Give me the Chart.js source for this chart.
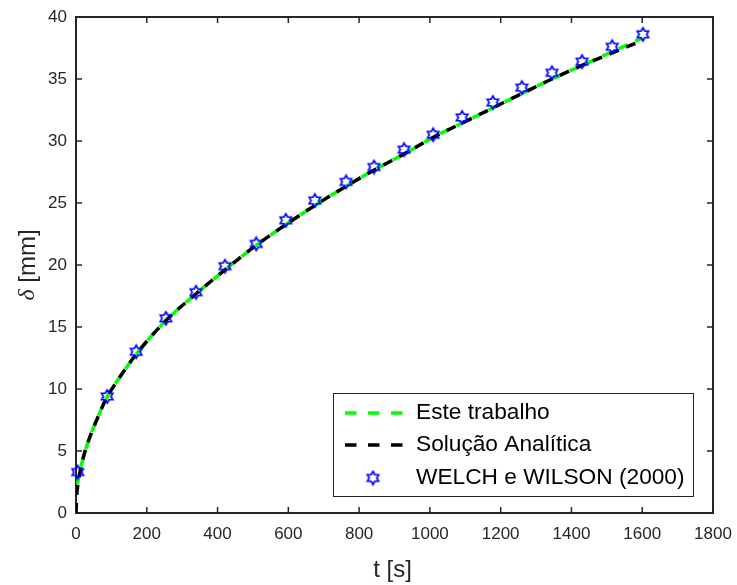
<!DOCTYPE html>
<html>
<head>
<meta charset="utf-8">
<script src="https://cdn.jsdelivr.net/npm/chart.js@4.4.1/dist/chart.umd.min.js"></script>
<style>
  html, body { margin: 0; padding: 0; background: #fff; }
  #wrap { width: 737px; height: 585px; }
</style>
</head>
<body>
<div id="wrap"><canvas id="c" width="737" height="585"></canvas></div>
<script>
// t [s] grid for the two curves
const tCurve = [0, 2, 5, 10, 20, 40, 60, 85, 120, 170, 250, 340, 425, 505, 590, 675, 760, 845, 930, 1010, 1095, 1180, 1265, 1345, 1430, 1515, 1600];
// numerical result (Este trabalho)
const deltaNum = [1.6, 1.9, 2.5, 3.2, 4.4, 6.2, 7.6, 9.2, 10.8, 12.8, 15.4, 17.7, 19.7, 21.5, 23.2, 24.8, 26.3, 27.7, 29.0, 30.3, 31.5, 32.7, 33.9, 35.0, 36.1, 37.2, 38.3];
// analytical solution
const deltaAnal = [0, 1.4, 2.2, 3.1, 4.4, 6.2, 7.6, 9.2, 10.8, 12.8, 15.4, 17.7, 19.7, 21.5, 23.2, 24.8, 26.3, 27.7, 29.0, 30.3, 31.5, 32.7, 33.9, 35.0, 36.1, 37.1, 38.1];
// WELCH e WILSON (2000)
const tExp = [5, 88, 170, 254, 339, 421, 509, 593, 675, 763, 842, 927, 1009, 1091, 1178, 1260, 1345, 1430, 1515, 1602];
const deltaExp = [3.3, 9.4, 13.0, 15.7, 17.8, 19.9, 21.7, 23.6, 25.2, 26.7, 27.9, 29.3, 30.5, 31.9, 33.1, 34.3, 35.5, 36.4, 37.6, 38.6];

const xTicks = [0, 200, 400, 600, 800, 1000, 1200, 1400, 1600, 1800];
const yTicks = [0, 5, 10, 15, 20, 25, 30, 35, 40];

const legendLabels = ['Este trabalho', 'Solução Analítica', 'WELCH e WILSON (2000)'];

const AX = '#262626';
const GREEN = '#00ff00';
const BLUE = '#0000ff';
const FONT = '"Liberation Sans", Arial, sans-serif';

// six-point star used as the marker
function hexagram(size, color) {
  const c = document.createElement('canvas');
  c.width = size + 4; c.height = size + 4;
  const g = c.getContext('2d');
  const cx = c.width / 2, cy = c.height / 2, r = size / 2, ri = r / Math.sqrt(3);
  g.beginPath();
  for (let i = 0; i < 12; i++) {
    const a = -Math.PI / 2 + i * Math.PI / 6;
    const rr = i % 2 === 0 ? r : ri;
    const px = cx + rr * Math.cos(a), py = cy + rr * Math.sin(a);
    if (i === 0) g.moveTo(px, py); else g.lineTo(px, py);
  }
  g.closePath();
  g.strokeStyle = color;
  g.lineWidth = 1.7;
  g.stroke();
  return c;
}
const starImg = hexagram(13, BLUE);

const toXY = (xs, ys) => xs.map((x, i) => ({ x: x, y: ys[i] }));

// axes box with inward ticks on all sides, plus axis titles and legend
const frame = {
  id: 'frame',
  beforeDatasetsDraw(chart) {
    const { ctx, chartArea: a, scales } = chart;
    ctx.save();
    ctx.strokeStyle = AX;
    ctx.lineWidth = 2;
    ctx.strokeRect(a.left, a.top, a.right - a.left, a.bottom - a.top);
    ctx.lineWidth = 1.5;
    ctx.beginPath();
    xTicks.forEach(v => {
      const px = scales.x.getPixelForValue(v);
      ctx.moveTo(px, a.bottom); ctx.lineTo(px, a.bottom - 6);
      ctx.moveTo(px, a.top); ctx.lineTo(px, a.top + 6);
    });
    yTicks.forEach(v => {
      const py = scales.y.getPixelForValue(v);
      ctx.moveTo(a.left, py); ctx.lineTo(a.left + 6, py);
      ctx.moveTo(a.right, py); ctx.lineTo(a.right - 6, py);
    });
    ctx.stroke();
    ctx.restore();
  },
  afterDraw(chart) {
    const { ctx, chartArea: a } = chart;
    ctx.save();
    ctx.fillStyle = AX;
    // x title
    ctx.font = '24px ' + FONT;
    ctx.textAlign = 'center';
    ctx.textBaseline = 'middle';
    ctx.fillText('t [s]', (a.left + a.right) / 2 - 2, 570);
    // y title: italic delta followed by unit
    ctx.translate(28, (a.top + a.bottom) / 2);
    ctx.rotate(-Math.PI / 2);
    ctx.font = 'italic 24px "Liberation Serif", serif';
    const w1 = ctx.measureText('δ').width;
    ctx.font = '24px ' + FONT;
    const w2 = ctx.measureText(' [mm]').width;
    const x0 = -(w1 + w2) / 2;
    ctx.textAlign = 'left';
    ctx.font = 'italic 24px "Liberation Serif", serif';
    ctx.fillText('δ', x0, 0);
    ctx.font = '24px ' + FONT;
    ctx.fillText(' [mm]', x0 + w1, 0);
    ctx.restore();

    // legend box
    const bx = 333, by = 393, bw = 360, bh = 103;
    ctx.save();
    ctx.fillStyle = '#fff';
    ctx.fillRect(bx, by, bw, bh);
    ctx.strokeStyle = AX;
    ctx.lineWidth = 1;
    ctx.strokeRect(bx + 0.5, by + 0.5, bw, bh);
    const rows = [413, 445, 478];
    ctx.lineWidth = 3.5;
    ctx.setLineDash([11.5, 11.5]);
    [GREEN, '#000'].forEach((col, i) => {
      ctx.strokeStyle = col;
      ctx.beginPath();
      ctx.moveTo(345, rows[i]); ctx.lineTo(403, rows[i]);
      ctx.stroke();
    });
    ctx.setLineDash([]);
    ctx.drawImage(starImg, 373 - starImg.width / 2, rows[2] - starImg.height / 2);
    ctx.fillStyle = '#000';
    ctx.font = '22.7px ' + FONT;
    ctx.textAlign = 'left';
    ctx.textBaseline = 'middle';
    legendLabels.forEach((t, i) => ctx.fillText(t, 416, rows[i]));
    ctx.restore();
  }
};

new Chart(document.getElementById('c'), {
  type: 'line',
  data: {
    datasets: [
      {
        type: 'scatter',
        label: legendLabels[2],
        data: toXY(tExp, deltaExp),
        pointStyle: starImg,
        pointRadius: 7,
        showLine: false,
        clip: false,
        order: 0
      },
      {
        label: legendLabels[1],
        data: toXY(tCurve, deltaAnal),
        borderColor: '#000',
        borderWidth: 3.5,
        borderDash: [10, 8],
        borderDashOffset: 0,
        pointRadius: 0,
        cubicInterpolationMode: 'monotone',
        fill: false,
        order: 1
      },
      {
        label: legendLabels[0],
        data: toXY(tCurve, deltaNum),
        borderColor: GREEN,
        borderWidth: 3.5,
        borderDash: [10, 8],
        borderDashOffset: 9,
        pointRadius: 0,
        cubicInterpolationMode: 'monotone',
        fill: false,
        order: 2
      }
    ]
  },
  options: {
    responsive: false,
    animation: false,
    layout: { padding: { left: 0, top: 17, right: 24, bottom: 0 } },
    plugins: { legend: { display: false }, tooltip: { enabled: false } },
    scales: {
      x: {
        type: 'linear',
        min: 0, max: 1800,
        afterFit(s) { s.height = 72; s.paddingLeft = 0; s.paddingRight = 0; },
        afterBuildTicks(s) { s.ticks = xTicks.map(v => ({ value: v })); },
        grid: { display: false, drawTicks: false },
        border: { display: false },
        ticks: { color: AX, padding: 11, maxRotation: 0, callback: v => String(v), font: { family: FONT, size: 17 } }
      },
      y: {
        type: 'linear',
        min: 0, max: 40,
        afterFit(s) { s.width = 76; s.paddingTop = 0; s.paddingBottom = 0; },
        afterBuildTicks(s) { s.ticks = yTicks.map(v => ({ value: v })); },
        grid: { display: false, drawTicks: false },
        border: { display: false },
        ticks: { color: AX, padding: 9, callback: v => String(v), font: { family: FONT, size: 17 } }
      }
    }
  },
  plugins: [frame]
});
</script>
</body>
</html>
